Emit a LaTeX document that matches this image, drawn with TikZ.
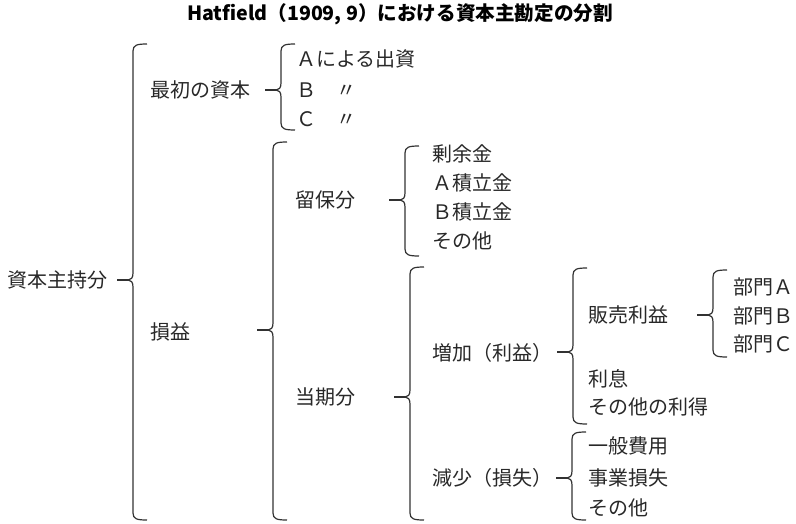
\documentclass[tikz,border=0pt]{standalone}
\usepackage{fontspec}
\setmainfont{Noto Sans CJK JP}
\newfontfamily\titlefont{Noto Sans CJK JP}
\definecolor{txt}{RGB}{40,40,40}
\definecolor{ln}{RGB}{50,50,50}
\tikzset{
  lab/.style={anchor=west, inner sep=0pt, text=txt, font=\fontsize{20}{20}\selectfont},
  ttl/.style={inner sep=0pt, text=black, font=\titlefont\bfseries\fontsize{19.6}{19.6}\selectfont},
  bline/.style={draw=ln, line width=1.2pt},
  tline/.style={draw=ln, line width=2pt}
}
\newcommand\bracketdraw[5]{%
  \draw[bline] (#2+14,#3) .. controls (#2+4,#3) and (#2,#3+1) .. (#2,#3+7)
    -- (#2,#4-7) .. controls (#2,#4-2) and (#2-2,#4) .. (#2-5,#4)
    .. controls (#2-2,#4) and (#2,#4+2) .. (#2,#4+7)
    -- (#2,#5-7) .. controls (#2,#5-1) and (#2+4,#5) .. (#2+14,#5);
  \coordinate (#1) at (#2-5,#4);
  \coordinate (#1s) at (#2-16,#4);
  \draw[tline] (#1s) -- (#1);
}
\begin{document}
\begin{tikzpicture}[x=1pt,y=-1pt]
\useasboundingbox (0,0) rectangle (796,523);
\node[ttl] (title) at (400,14) {Hatfield（1909, 9）における資本主勘定の分割};

\node[lab] (shihon) at (7,280) {資本主持分};
\bracketdraw{b1}{133}{44}{280}{520}

\node[lab] (saisho) at (150,90) {最初の資本};
\bracketdraw{b2}{281}{44}{90}{130}
\node[lab] (ia) at (296,59) {Ａによる出資};
\node[lab] (ib) at (296,90) {Ｂ　〃};
\node[lab] (ic) at (296,119) {Ｃ　〃};

\node[lab] (soneki) at (150,332) {損益};
\bracketdraw{b3}{273}{142}{330}{520}

\node[lab] (ryuho) at (295,200) {留保分};
\bracketdraw{b4}{405}{146}{200}{256}
\node[lab] (r1) at (432,154) {剰余金};
\node[lab] (r2) at (432,183) {Ａ積立金};
\node[lab] (r3) at (432,212) {Ｂ積立金};
\node[lab] (r4) at (432,241) {その他};

\node[lab] (toki) at (295,397) {当期分};
\bracketdraw{b5}{410}{267}{397}{520}

\node[lab] (zoka) at (432,353) {増加（利益）};
\bracketdraw{b6}{573}{268}{352}{424}
\node[lab] (hanbai) at (588,315) {販売利益};
\bracketdraw{b7}{713}{270}{315}{357}
\node[lab] (da) at (733,287) {部門Ａ};
\node[lab] (db) at (733,316) {部門Ｂ};
\node[lab] (dc) at (733,344) {部門Ｃ};
\node[lab] (risoku) at (588,379) {利息};
\node[lab] (sonota2) at (588,407) {その他の利得};

\node[lab] (gensho) at (432,478) {減少（損失）};
\bracketdraw{b8}{572}{432}{478}{520}
\node[lab] (g1) at (588,446) {一般費用};
\node[lab] (g2) at (588,478) {事業損失};
\node[lab] (g3) at (588,508) {その他};
\end{tikzpicture}
\end{document}
